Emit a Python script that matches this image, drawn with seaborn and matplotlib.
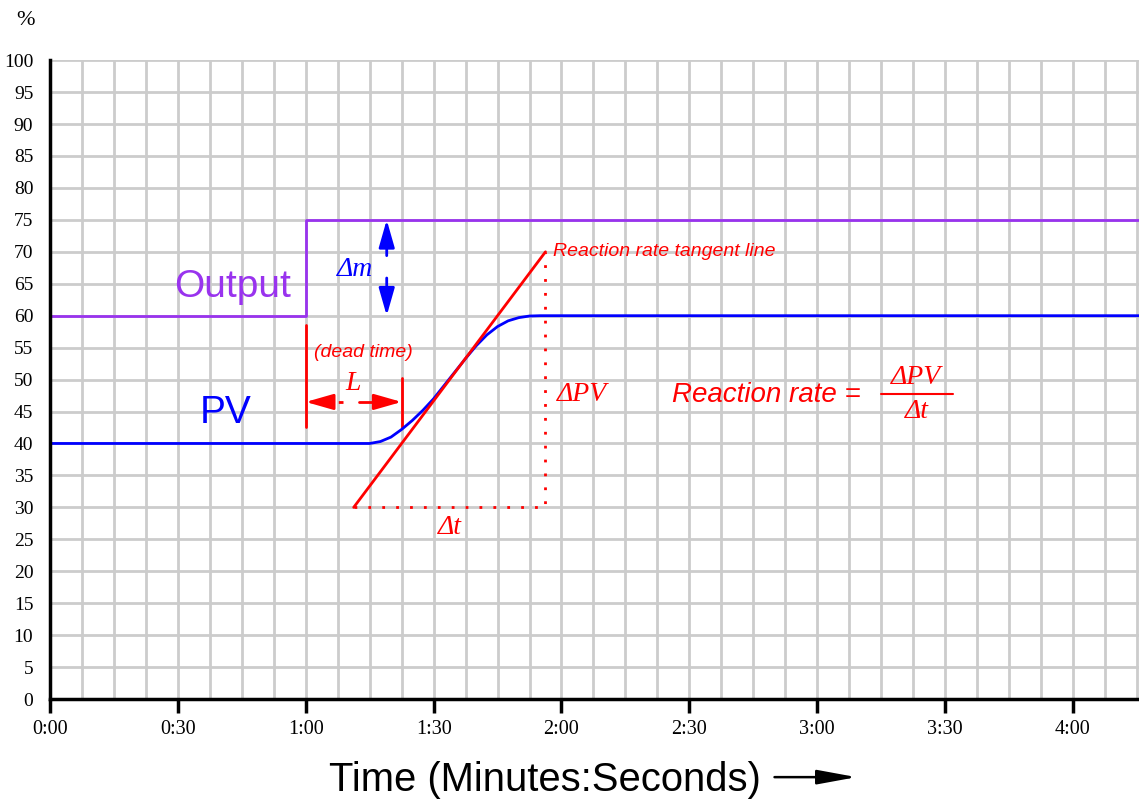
import numpy as np
import pandas as pd
import matplotlib.pyplot as plt
import seaborn as sns
from matplotlib.patches import FancyArrowPatch

# data (time in seconds, value in %)
out_t = [0, 60, 60, 255.5]
out_v = [60, 60, 75, 75]
pv_t = [0, 75, 77.5, 80, 82.5, 85, 87.5, 90, 92.5, 95, 97.5, 100, 102.5, 105, 107.5, 110, 112.5, 115, 255.5]
pv_v = [40, 40, 40.3, 41.0, 42.2, 43.6, 45.2, 47.0, 49.1, 51.2, 53.3, 55.3, 57.0, 58.3, 59.2, 59.7, 59.95, 60, 60]
tan_t = [71.25, 116.25]
tan_v = [30, 70]
box_t = [71.25, 116.25, 116.25]
box_v = [30, 30, 70]
xtick_vals = [0, 30, 60, 90, 120, 150, 180, 210, 240]
xtick_labels = ["0:00", "0:30", "1:00", "1:30", "2:00", "2:30", "3:00", "3:30", "4:00"]
ytick_vals = list(range(0, 101, 5))

sns.set_style("white")
plt.rcParams['font.family'] = ['Liberation Sans', 'DejaVu Sans']

RED = "#ff0000"
BLUE = "#0000ff"
PURPLE = "#9933ee"
SERIF = ['Liberation Serif', 'DejaVu Serif']
HEAD = "-|>,head_length=1.4,head_width=0.4"

fig = plt.figure(figsize=(11.39, 8.02), dpi=100)
ax = fig.add_axes([0.0439, 0.1284, 0.9561, 0.7966])

df_out = pd.DataFrame({"t": out_t, "v": out_v})
df_pv = pd.DataFrame({"t": pv_t, "v": pv_v})
sns.lineplot(data=df_out, x="t", y="v", estimator=None, sort=False, color=PURPLE, lw=2, ax=ax, zorder=3)
sns.lineplot(data=df_pv, x="t", y="v", estimator=None, sort=False, color=BLUE, lw=2, ax=ax, zorder=3)
sns.lineplot(x=tan_t, y=tan_v, estimator=None, sort=False, color=RED, lw=2, ax=ax, zorder=4)
sns.lineplot(x=box_t, y=box_v, estimator=None, sort=False, color=RED, lw=2, ax=ax, zorder=4)
ax.lines[-1].set_linestyle((0, (1, 4)))

ax.set_xlim(0, 255.5)
ax.set_ylim(0, 100)
ax.set_xticks(xtick_vals)
ax.set_xticklabels(xtick_labels, family=SERIF, fontsize=14.5, color="black")
ax.set_xticks(np.arange(0, 256, 7.5), minor=True)
ax.set_yticks(ytick_vals)
ax.set_yticklabels([str(v) for v in ytick_vals], family=SERIF, fontsize=14, color="black")
ax.grid(True, which="both", axis="x", color="#cccccc", lw=2, zorder=0)
ax.grid(True, which="major", axis="y", color="#cccccc", lw=2, zorder=0)
ax.set_axisbelow(True)
ax.tick_params(axis="x", which="major", length=10, width=2.5, color="black", pad=5, bottom=True)
ax.tick_params(axis="x", which="minor", length=0)
ax.tick_params(axis="y", length=0, pad=12)
for s in ["top", "right"]:
    ax.spines[s].set_visible(False)
for s in ["left", "bottom"]:
    ax.spines[s].set_color("black")
    ax.spines[s].set_linewidth(2.5)
    ax.spines[s].set_zorder(5)
ax.set_xlabel("")
ax.set_ylabel("")

# labels
ax.text(56.5, 64.5, "Output", color=PURPLE, fontsize=28, ha="right", va="center")
ax.text(41.2, 44.8, "PV", color=BLUE, fontsize=28, ha="center", va="center")

arrow_kw = dict(arrowstyle=HEAD, lw=2, mutation_scale=12, shrinkA=0, shrinkB=0)

# delta m
ax.text(71.5, 67.2, "Δm", color=BLUE, fontsize=20, family=SERIF, style="italic", ha="center", va="center")
ax.annotate("", xy=(79, 75), xytext=(79, 69.4), arrowprops=dict(color=BLUE, **arrow_kw))
ax.annotate("", xy=(79, 60), xytext=(79, 65.9), arrowprops=dict(color=BLUE, **arrow_kw))

# dead time
ax.plot([60, 60], [42.6, 58.6], color=RED, lw=2)
ax.plot([82.5, 82.5], [42.6, 50.2], color=RED, lw=2)
ax.text(73.5, 54.2, "(dead time)", color=RED, fontsize=14, style="italic", ha="center", va="center")
ax.text(71.2, 49.4, "L", color=RED, fontsize=20, family=SERIF, style="italic", ha="center", va="center")
ax.plot([64, 68.7], [46.5, 46.5], color=RED, lw=2, ls=(0, (3, 2.5)))
ax.plot([72.6, 77], [46.5, 46.5], color=RED, lw=2)
ax.annotate("", xy=(60, 46.5), xytext=(66, 46.5), arrowprops=dict(color=RED, **arrow_kw))
ax.annotate("", xy=(82.5, 46.5), xytext=(76.5, 46.5), arrowprops=dict(color=RED, **arrow_kw))

# tangent annotations
ax.text(118.0, 70.0, "Reaction rate tangent line", color=RED, fontsize=14, style="italic", ha="left", va="center")
ax.text(119.0, 47.7, "ΔPV", color=RED, fontsize=20, family=SERIF, style="italic", ha="left", va="center")
ax.text(93.8, 26.8, "Δt", color=RED, fontsize=20, family=SERIF, style="italic", ha="center", va="center")
ax.text(146.0, 47.6, "Reaction rate =", color=RED, fontsize=20, style="italic", ha="left", va="center")
ax.text(203.3, 50.4, "ΔPV", color=RED, fontsize=20, family=SERIF, style="italic", ha="center", va="center")
ax.text(203.3, 45.0, "Δt", color=RED, fontsize=20, family=SERIF, style="italic", ha="center", va="center")
ax.plot([195.0, 211.9], [47.7, 47.7], color=RED, lw=1.5)

# axis titles
fig.text(0.022, 0.975, "%", fontsize=16, family=SERIF, ha="center", va="center", color="black")
fig.text(0.4785, 0.027, "Time (Minutes:Seconds)", fontsize=28.8, ha="center", va="center", color="black")
fig.patches.append(FancyArrowPatch(
    (0.680, 0.031), (0.752, 0.031), transform=fig.transFigure,
    arrowstyle="-|>,head_length=1.2,head_width=0.22", color="black", lw=1.8,
    mutation_scale=20, shrinkA=0, shrinkB=0))

fig.savefig("out.png", dpi=100)
